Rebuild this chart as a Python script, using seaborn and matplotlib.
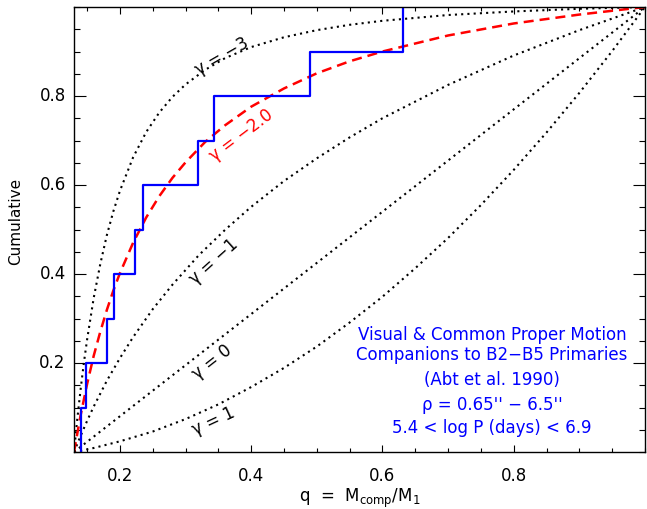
import matplotlib
matplotlib.use("Agg")
import matplotlib.pyplot as plt
import matplotlib.transforms as mtransforms
from matplotlib.ticker import MultipleLocator, FixedLocator
import seaborn as sns

# ---- observed cumulative distribution (blue steps) ----
q_obs = [0.141, 0.149, 0.181, 0.191, 0.223, 0.235, 0.319, 0.343, 0.490, 0.631]
cum_obs = [0.1, 0.2, 0.3, 0.4, 0.5, 0.6, 0.7, 0.8, 0.9, 1.0]

# ---- model curves ----
q_m3 = [0.13, 0.135, 0.14, 0.145, 0.15, 0.16, 0.17, 0.18, 0.19, 0.20, 0.22, 0.24, 0.26,
        0.28, 0.30, 0.33, 0.36, 0.40, 0.45, 0.50, 0.55, 0.60, 0.70, 0.80, 0.90, 1.00]
F_m3 = [0.0, 0.074, 0.140, 0.200, 0.253, 0.346, 0.422, 0.487, 0.541, 0.587, 0.662, 0.719, 0.763,
        0.798, 0.826, 0.859, 0.885, 0.910, 0.932, 0.948, 0.960, 0.969, 0.982, 0.990, 0.996, 1.0]

q_m2 = [0.13, 0.14, 0.15, 0.16, 0.17, 0.18, 0.19, 0.20, 0.22, 0.24, 0.26, 0.28, 0.30,
        0.33, 0.36, 0.40, 0.45, 0.50, 0.55, 0.60, 0.70, 0.80, 0.90, 1.00]
F_m2 = [0.0, 0.082, 0.153, 0.216, 0.270, 0.319, 0.363, 0.402, 0.470, 0.527, 0.575, 0.616, 0.651,
        0.697, 0.734, 0.776, 0.817, 0.851, 0.878, 0.900, 0.936, 0.963, 0.983, 1.0]

q_m1 = [0.13, 0.14, 0.15, 0.16, 0.18, 0.20, 0.22, 0.25, 0.28, 0.32, 0.36, 0.40, 0.45,
        0.50, 0.55, 0.60, 0.70, 0.80, 0.90, 1.00]
F_m1 = [0.0, 0.036, 0.070, 0.102, 0.160, 0.211, 0.258, 0.321, 0.376, 0.442, 0.499, 0.551, 0.609,
        0.660, 0.707, 0.750, 0.825, 0.891, 0.948, 1.0]

q_0 = [0.13, 0.40, 0.70, 1.00]
F_0 = [0.0, 0.310, 0.655, 1.0]

q_p1 = [0.13, 0.16, 0.20, 0.25, 0.30, 0.35, 0.40, 0.45, 0.50, 0.55, 0.60, 0.65, 0.70,
        0.75, 0.80, 0.85, 0.90, 0.95, 1.00]
F_p1 = [0.0, 0.009, 0.024, 0.046, 0.074, 0.107, 0.146, 0.189, 0.237, 0.291, 0.349, 0.413, 0.481,
        0.555, 0.634, 0.718, 0.807, 0.901, 1.0]

x_ticks = [0.2, 0.4, 0.6, 0.8]
y_ticks = [0.2, 0.4, 0.6, 0.8]

box_lines = ["Visual & Common Proper Motion",
             "Companions to B2\u2212B5 Primaries",
             "(Abt et al. 1990)",
             "\u03c1 = 0.65'' \u2212 6.5''",
             "5.4 < log P (days) < 6.9"]

sns.set_style("ticks")
plt.rcParams["font.family"] = ["DejaVu Sans"]
plt.rcParams["axes.linewidth"] = 1.0
for k in ["text.color", "axes.labelcolor", "xtick.color", "ytick.color", "axes.edgecolor"]:
    plt.rcParams[k] = "black"

fig = plt.figure(figsize=(6.47, 5.10), dpi=100)
ax = fig.add_axes([74 / 647, 57 / 510, 571 / 647, 445 / 510])

dot = dict(color="black", linewidth=1.5, linestyle=(0, (1, 2.0)), estimator=None, sort=False, ax=ax)
sns.lineplot(x=q_m3, y=F_m3, **dot)
sns.lineplot(x=q_m1, y=F_m1, **dot)
sns.lineplot(x=q_0, y=F_0, **dot)
sns.lineplot(x=q_p1, y=F_p1, **dot)

sns.lineplot(x=q_m2, y=F_m2, color="#ff0000", linewidth=1.8, linestyle=(0, (4, 2.4)),
             estimator=None, sort=False, ax=ax)

sns.lineplot(x=[q_obs[0]] + q_obs, y=[0.0] + cum_obs, color="#0000ff", linewidth=1.6,
             drawstyle="steps-post", estimator=None, sort=False, ax=ax)

ax.set_xlim(0.13, 1.0)
ax.set_ylim(0.0, 1.0)
ax.xaxis.set_major_locator(FixedLocator(x_ticks))
ax.yaxis.set_major_locator(FixedLocator(y_ticks))
ax.xaxis.set_minor_locator(MultipleLocator(0.05))
ax.yaxis.set_minor_locator(MultipleLocator(0.05))
ax.set_xticklabels([f"{v:.1f}" for v in x_ticks])
ax.set_yticklabels([f"{v:.1f}" for v in y_ticks])

ax.tick_params(which="both", direction="in", top=True, right=True, color="black",
               labelcolor="black", width=0.8)
ax.tick_params(axis="x", which="major", length=5, pad=10, labelsize=12)
ax.tick_params(axis="x", which="minor", length=3)
ax.tick_params(axis="y", which="major", length=8.5, pad=6, labelsize=12)
ax.tick_params(axis="y", which="minor", length=4.3)
for lab in ax.get_yticklabels():
    lab.set_transform(lab.get_transform() + mtransforms.ScaledTranslation(0, 2.5 / 72, fig.dpi_scale_trans))

for s in ax.spines.values():
    s.set_color("black")

ax.set_xlabel(r"q  =  M$_{\mathregular{comp}}$/M$_{\mathregular{1}}$", fontsize=12, color="black")
ax.xaxis.set_label_coords(0.5, -0.077)
ax.set_ylabel("Cumulative", fontsize=11, color="black")
ax.yaxis.set_label_coords(-0.089, 0.52)

# curve labels
ax.text(0.355, 0.890, "\u03b3 = \u22123", rotation=30, ha="center", va="center", fontsize=12, color="black")
ax.text(0.385, 0.713, "\u03b3 = \u22122.0", rotation=37, ha="center", va="center", fontsize=12, color="#ff0000")
ax.text(0.343, 0.429, "\u03b3 = \u22121", rotation=42, ha="center", va="center", fontsize=12, color="black")
ax.text(0.340, 0.2045, "\u03b3 = 0", rotation=38, ha="center", va="center", fontsize=12, color="black")
ax.text(0.342, 0.072, "\u03b3 = 1", rotation=25, ha="center", va="center", fontsize=12, color="black")

# annotation box
box_y = [0.254, 0.209, 0.153, 0.0966, 0.045]
for txt, yy in zip(box_lines, box_y):
    ax.text(0.767, yy, txt, ha="center", va="baseline", fontsize=12, color="#0000ff")

fig.savefig("out.png", dpi=100)
